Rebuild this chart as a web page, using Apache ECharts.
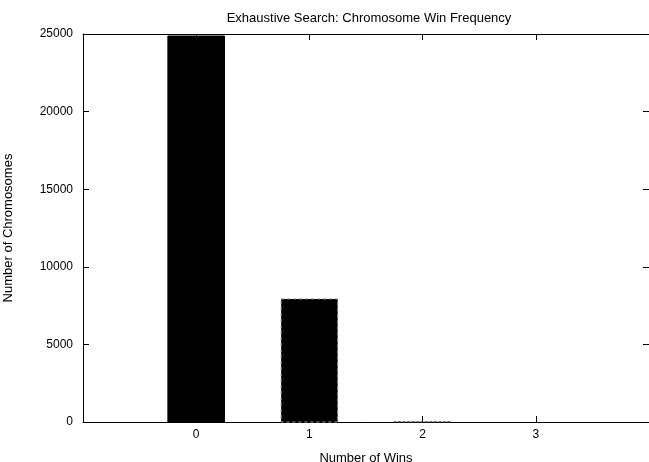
<!DOCTYPE html>
<html>
<head>
<meta charset="utf-8">
<script src="https://cdn.jsdelivr.net/npm/echarts@6/dist/echarts.min.js"></script>
<style>
  html, body { margin: 0; padding: 0; background: #fff; }
  #chart { width: 649px; height: 462px; }
</style>
</head>
<body>
<div id="chart"></div>
<script>
// data
const wins = [0, 1, 2, 3];
const counts = [24870, 7930, 20, 0];
const yTicks = [0, 5000, 10000, 15000, 20000, 25000];

// border per bar (gnuplot line types)
const borderColor = ['#000', '#9a9a9a', '#555', null];
const borderDash = [null, [3, 3], [1.5, 3], null];

const font = 'Liberation Sans, Arial, sans-serif';

const chart = echarts.init(document.getElementById('chart'));

const axisLine = (show) => ({ show: show, onZero: false, lineStyle: { color: '#000', width: 1 } });
const axisTick = () => ({ show: true, inside: true, length: 6, lineStyle: { color: '#000', width: 1 } });

const option = {
    animation: false,
    backgroundColor: '#fff',
    title: {
        text: 'Exhaustive Search: Chromosome Win Frequency',
        left: 364,
        textAlign: 'center',
        top: 7,
        textStyle: { fontFamily: font, fontSize: 13, fontWeight: 'normal', color: '#000' },
    },
    grid: {
        left: 83, right: 0, top: 34, bottom: 40,
        show: false,
        containLabel: false,
        outerBoundsMode: 'none',
    },
    xAxis: [
        {
            type: 'value', min: -1, max: 4, interval: 1,
            axisLine: axisLine(true), axisTick: axisTick(), splitLine: { show: false },
            name: 'Number of Wins',
            nameLocation: 'middle',
            nameGap: 30,
            nameTextStyle: { fontFamily: font, fontSize: 13, color: '#000' },
            axisLabel: {
                fontFamily: font, fontSize: 12, color: '#000', margin: 7,
                formatter: (v) => (wins.includes(v) ? String(v) : ''),
            },
        },
        {
            type: 'value', min: -1, max: 4, interval: 1, position: 'top',
            axisLine: axisLine(true), axisTick: axisTick(), splitLine: { show: false },
            axisLabel: { show: false },
        },
    ],
    yAxis: [
        {
            type: 'value', min: 0, max: 25000, interval: 5000,
            axisLine: axisLine(true), axisTick: axisTick(), splitLine: { show: false },
            name: 'Number of Chromosomes',
            nameLocation: 'middle',
            nameGap: 68,
            nameTextStyle: { fontFamily: font, fontSize: 13, color: '#000' },
            axisLabel: {
                fontFamily: font, fontSize: 12, color: '#000', margin: 10,
                formatter: (v) => (yTicks.includes(v) ? String(v) : ''),
            },
        },
        {
            type: 'value', min: 0, max: 25000, interval: 5000, position: 'right',
            axisLine: axisLine(false), axisTick: axisTick(), splitLine: { show: false },
            axisLabel: { show: false },
        },
    ],
    series: [
        {
            type: 'custom',
            xAxisIndex: 0,
            yAxisIndex: 0,
            data: wins.map((w, i) => [w, counts[i]]),
            renderItem: function (params, api) {
                const x = api.value(0);
                const y = api.value(1);
                const p0 = api.coord([x - 0.25, y]);
                const p1 = api.coord([x + 0.25, 0]);
                const i = params.dataIndex;
                return {
                    type: 'rect',
                    shape: { x: p0[0], y: p0[1], width: p1[0] - p0[0], height: p1[1] - p0[1] },
                    style: {
                        fill: '#000',
                        stroke: borderColor[i],
                        lineWidth: borderColor[i] ? 1 : 0,
                        lineDash: borderDash[i],
                    },
                };
            },
        },
    ],
};

chart.setOption(option);
</script>
</body>
</html>
